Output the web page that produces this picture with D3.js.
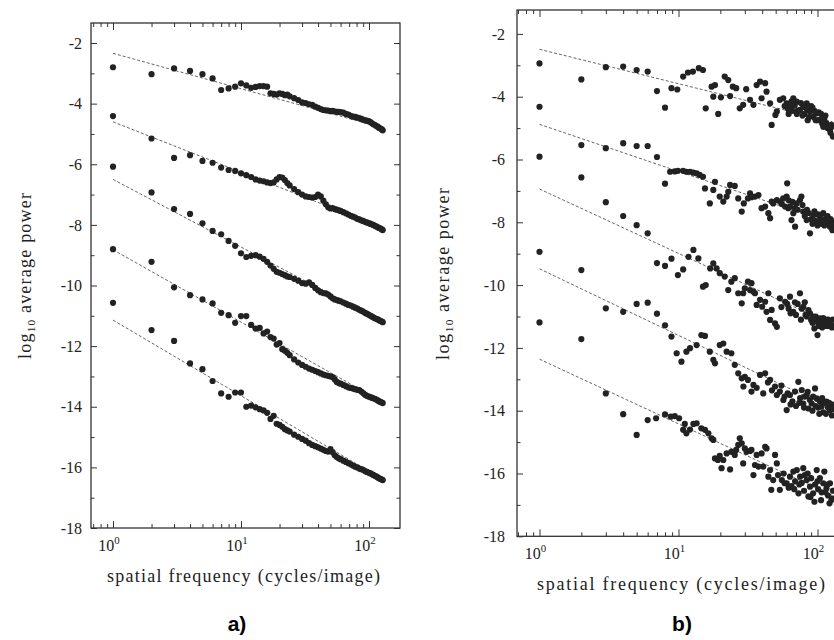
<!DOCTYPE html>
<html><head><meta charset="utf-8">
<script src="https://cdn.jsdelivr.net/npm/d3@7"></script>
<style>body{margin:0;background:#fff}svg{display:block}</style>
</head><body>
<svg id="c" width="834" height="640"></svg>
<script>
// ---------- DATA ----------
// Panel a: shared spatial frequencies (cycles/image)
const freqA = [1,2,3,4,5,6,7,8,9,10,11,12,13,14,15,16,17,18,19,20,21,22,23,24,
  26,28,30,32,34,36,38,40,42,44,46,48,50,52,54,56,58,60,
  63,66,69,72,75,78,81,84,87,90,93,96,99,102,105,108,111,114,117,120,123,126,128];
const seriesA1 = [-2.80,-3.03,-2.84,-2.92,-3.03,-3.17,-3.55,-3.50,-3.44,-3.33,-3.40,-3.48,-3.45,-3.42,-3.42,-3.44,-3.66,-3.68,-3.70,-3.66,-3.68,-3.72,-3.70,-3.76,
  -3.82,-3.88,-3.96,-3.98,-4.02,-4.04,-4.10,-4.14,-4.18,-4.21,-4.22,-4.23,-4.25,-4.24,-4.26,-4.27,-4.27,-4.28,
  -4.30,-4.34,-4.36,-4.40,-4.43,-4.44,-4.46,-4.48,-4.50,-4.53,-4.55,-4.56,-4.58,-4.60,-4.64,-4.68,-4.70,-4.74,-4.76,-4.80,-4.82,-4.85,-4.88];
const seriesA2 = [-4.41,-5.15,-5.79,-5.70,-5.89,-5.95,-6.11,-6.19,-6.22,-6.30,-6.36,-6.42,-6.50,-6.54,-6.56,-6.60,-6.62,-6.60,-6.50,-6.42,-6.44,-6.52,-6.62,-6.70,
  -6.82,-6.92,-7.00,-7.06,-7.08,-7.10,-7.08,-7.00,-7.06,-7.20,-7.32,-7.42,-7.46,-7.45,-7.48,-7.50,-7.52,-7.54,
  -7.58,-7.62,-7.66,-7.70,-7.73,-7.76,-7.80,-7.82,-7.85,-7.87,-7.90,-7.92,-7.94,-7.96,-7.98,-8.00,-8.03,-8.05,-8.08,-8.10,-8.12,-8.15,-8.17];
const seriesA3 = [-6.08,-6.93,-7.48,-7.64,-7.95,-8.20,-8.31,-8.53,-8.69,-8.94,-9.06,-9.02,-9.00,-9.05,-9.12,-9.22,-9.34,-9.45,-9.55,-9.58,-9.62,-9.66,-9.70,-9.72,
  -9.78,-9.84,-9.92,-9.94,-9.90,-9.98,-10.08,-10.16,-10.22,-10.25,-10.26,-10.30,-10.36,-10.42,-10.46,-10.48,-10.50,-10.52,
  -10.56,-10.60,-10.64,-10.66,-10.70,-10.73,-10.76,-10.80,-10.83,-10.86,-10.90,-10.93,-10.96,-10.99,-11.02,-11.05,-11.08,-11.10,-11.12,-11.15,-11.17,-11.19,-11.21];
const seriesA4 = [-8.80,-9.22,-10.06,-10.32,-10.46,-10.59,-10.90,-10.98,-11.23,-11.01,-11.01,-11.30,-11.42,-11.40,-11.58,-11.52,-11.70,-11.75,-11.95,-11.90,-12.10,-12.15,-12.22,-12.30,
  -12.44,-12.54,-12.62,-12.68,-12.74,-12.78,-12.82,-12.86,-12.90,-12.94,-12.96,-12.98,-13.00,-13.02,-13.10,-13.18,-13.22,-13.24,
  -13.28,-13.32,-13.36,-13.38,-13.40,-13.42,-13.44,-13.45,-13.50,-13.55,-13.60,-13.64,-13.66,-13.68,-13.70,-13.72,-13.74,-13.76,-13.79,-13.82,-13.84,-13.86,-13.88];
const seriesA5 = [-10.57,-11.47,-11.83,-12.57,-12.76,-13.15,-13.56,-13.67,-13.53,-13.53,-14.00,-13.96,-14.02,-14.08,-14.12,-14.20,-14.40,-14.30,-14.56,-14.60,-14.66,-14.74,-14.78,-14.82,
  -14.92,-14.99,-15.06,-15.12,-15.20,-15.26,-15.30,-15.34,-15.38,-15.42,-15.46,-15.48,-15.40,-15.50,-15.60,-15.66,-15.70,-15.73,
  -15.78,-15.82,-15.86,-15.90,-15.94,-15.98,-16.00,-16.04,-16.06,-16.08,-16.12,-16.15,-16.17,-16.19,-16.22,-16.25,-16.28,-16.30,-16.33,-16.36,-16.38,-16.40,-16.42];
// fitted power-law lines (log10 power at f = 1 and f = 128)
const fitFreq = [1, 128];
const fitStartA = [-2.34, -4.60, -6.50, -8.82, -11.14];
const fitEndA   = [-4.80, -8.10, -11.20, -13.85, -16.40];

// Panel b: [frequency, log10 power]
const seriesB1 = [[1,-2.94],[2,-3.45],[3,-3.06],[4,-3.04],[5,-3.15],[6,-3.20],[7,-3.82],[8,-4.35],[8.9,-3.73],[9.8,-3.77],[10.8,-3.36],[11.7,-3.23],[12.7,-3.20],[14,-3.09],[15,-3.15],[15.7,-4.37],[17.3,-3.68],[18.3,-3.63],[17.8,-4.0],[19.3,-4.55],[20.2,-4.02],[21.5,-3.36],[22.8,-3.47],[23.5,-3.98],[24.6,-3.68],[26,-3.73],[27.6,-4.37],[29.2,-4.26],[30.7,-3.76],[32.7,-4.10],[34.6,-4.26],[36.5,-3.63],[38.6,-3.52],[39.6,-4.05],[42,-3.57],[43,-3.84],[45.6,-4.21],[46.8,-4.90],[49.8,-4.58],[51,-4.47],[53.6,-4.10],[56.7,-4.05],[58,-4.3],[60,-4.21],[61.5,-4.4],[63.4,-4.32],[65,-4.15],[67,-4.05],[68.5,-4.28],[70.8,-4.16],[72,-4.45],[74.8,-4.42],[76,-4.2],[79,-4.32],[80.5,-4.55],[83.6,-4.21],[85,-4.4],[88.3,-4.48],[90,-4.3],[93.3,-4.64],[95,-4.45],[98.7,-4.53],[100,-4.75],[104,-4.74],[106,-4.55],[110,-4.96],[112,-4.7],[116,-4.85],[118,-5.0],[123,-5.06],[126,-4.9],[129,-5.27],
  [62,-4.55],[66,-4.45],[71,-4.55],[78,-4.6],[82,-4.35],[85,-4.75],[87,-4.65],[92,-4.35],[97,-4.75],[102,-4.5],[108,-4.85],[114,-4.6],[120,-4.95],[124,-5.15],[128,-4.95]];
const seriesB2 = [[1,-4.32],[2,-5.54],[3,-5.64],[4,-5.48],[5,-5.57],[6,-5.57],[7,-5.92],[8,-6.77],[8.7,-6.39],[9.4,-6.38],[9.9,-6.36],[10.8,-6.36],[11.4,-6.39],[12.1,-6.39],[12.8,-6.42],[13.5,-6.44],[14.2,-6.49],[15,-6.55],[15.5,-6.92],[16.8,-7.40],[17.8,-6.97],[18.3,-6.71],[19.8,-7.18],[21,-7.34],[22.2,-7.18],[22.8,-7.03],[23.5,-6.81],[25.4,-6.84],[26.9,-7.24],[28.5,-7.66],[29.5,-7.40],[31.6,-7.24],[32.7,-7.08],[33.5,-7.20],[35.5,-7.18],[37.6,-7.13],[39.6,-7.55],[42,-7.50],[44.3,-7.71],[45.6,-7.87],[46.8,-7.34],[48,-7.40],[51,-7.29],[53.6,-7.34],[55.4,-7.42],[56.7,-7.24],[58.5,-7.50],[60,-7.18],[60.5,-6.76],[61.6,-7.55],[63.4,-7.50],[65,-7.93],[67,-7.71],[68.8,-7.55],[69,-8.14],[70.8,-7.40],[74.8,-7.29],[76.6,-7.18],[79,-7.66],[81,-7.80],[83.6,-7.93],[86,-7.70],[88.3,-8.35],[90,-7.90],[93.3,-7.77],[96,-7.95],[98.7,-7.98],[101,-7.75],[104,-7.82],[107,-8.05],[110,-7.71],[113,-7.90],[116,-7.98],[119,-8.05],[123,-8.14],[126,-7.95],[129,-8.10],
  [62,-7.3],[66,-7.35],[72,-7.6],[78,-7.45],[84,-7.6],[92,-8.05],[95,-7.65],[100,-8.1],[105,-7.95],[112,-8.1],[118,-7.8],[124,-7.9],[128,-8.25]];
const seriesB3 = [[1,-5.91],[2,-6.57],[3,-7.36],[4,-7.80],[5,-8.09],[6,-8.35],[7,-9.30],[8,-9.39],[8.9,-9.16],[9.9,-9.68],[10.8,-9.50],[11.8,-9.10],[12.8,-8.88],[13.9,-9.15],[15,-10.05],[15.7,-10.0],[16.9,-9.47],[17.8,-9.31],[18.8,-9.47],[19.8,-9.62],[21.5,-9.73],[22.8,-10.16],[24,-9.89],[25.4,-9.78],[26.9,-10.26],[28.5,-10.58],[29.2,-10.26],[30,-10.10],[31.6,-9.89],[32.7,-10.16],[33.5,-9.94],[34.6,-10.21],[35.5,-10.26],[36.5,-10.63],[38.6,-10.47],[40,-10.69],[42,-10.53],[43,-10.85],[44.3,-10.26],[45.6,-11.11],[46.8,-10.79],[49.5,-11.22],[51,-11.33],[53.6,-10.42],[55,-10.7],[58.5,-10.53],[60.5,-10.60],[63.4,-10.37],[64,-10.9],[67,-10.85],[68.8,-10.55],[72,-10.6],[74.8,-10.26],[77,-10.75],[79,-10.69],[81,-10.55],[83.6,-11.0],[86,-10.8],[88.3,-10.90],[90,-11.11],[93.3,-11.0],[95,-11.38],[98.7,-11.16],[100,-11.59],[104,-11.06],[106,-11.2],[110,-11.05],[113,-11.22],[116,-11.11],[120,-11.3],[123,-11.15],[126,-11.27],[129,-11.1],
  [62,-10.75],[70,-10.95],[76,-11.1],[82,-10.95],[92,-11.2],[97,-11.0],[102,-11.3],[108,-11.35],[114,-11.3],[119,-11.1],[127,-11.35]];
const seriesB4 = [[1,-8.94],[2,-9.52],[3,-10.74],[4,-10.85],[5,-10.60],[6,-10.56],[7,-10.91],[8,-11.28],[8.9,-11.64],[9.7,-12.17],[10.5,-12.44],[11.4,-12.12],[12.1,-12.01],[13.5,-11.91],[14.6,-11.59],[15.5,-11.62],[16.8,-12.12],[17.8,-12.38],[18.3,-12.49],[19.8,-11.91],[21,-11.86],[22.2,-12.12],[24,-12.17],[25.4,-12.54],[26.9,-12.81],[28.5,-12.97],[29.3,-13.23],[30,-12.92],[31.6,-13.02],[33.5,-13.39],[34.6,-13.18],[36.5,-13.27],[38.6,-12.86],[40.7,-13.45],[42,-12.81],[44,-13.10],[45.6,-13.02],[47,-13.35],[49.5,-13.23],[51,-13.50],[53.6,-13.39],[55,-13.20],[56.8,-13.66],[60,-13.98],[61,-13.45],[63.4,-13.50],[66,-13.70],[68.9,-13.39],[70,-13.85],[72.8,-13.08],[75,-13.60],[77,-13.34],[79,-13.77],[81,-13.55],[83.6,-13.50],[86,-13.93],[88,-13.65],[90.8,-13.77],[93,-13.55],[96,-13.29],[98.7,-13.61],[101,-13.90],[104,-13.70],[107,-13.87],[110,-14.05],[113,-13.75],[116,-13.71],[119,-13.90],[123,-13.98],[126,-13.80],[129,-13.95],
  [58,-13.55],[64,-13.8],[74,-13.75],[80,-13.9],[85,-13.4],[92,-14.0],[97,-13.85],[103,-14.1],[108,-13.6],[115,-14.1],[121,-13.75],[127,-14.15]];
const seriesB5 = [[1,-11.19],[2,-11.72],[3,-13.45],[4,-14.11],[5,-14.77],[6,-14.30],[6.9,-14.24],[8,-14.12],[8.8,-14.19],[9.4,-14.17],[10.1,-14.24],[10.8,-14.61],[11.1,-14.42],[11.4,-14.72],[12.1,-14.60],[12.8,-14.42],[13.5,-14.40],[14.6,-14.56],[15.5,-14.61],[16.4,-14.72],[17.3,-14.88],[17.8,-14.93],[18.3,-15.52],[19.2,-15.57],[19.8,-15.44],[20.4,-15.83],[21,-15.57],[22.2,-15.36],[23.5,-15.87],[24,-15.31],[25.4,-15.41],[26,-15.25],[26.9,-15.09],[27.6,-14.88],[28.5,-15.04],[29.2,-15.68],[30,-15.20],[30.9,-15.31],[32.7,-15.28],[33.5,-15.25],[34.6,-16.05],[35.5,-15.73],[36.5,-15.41],[37.6,-15.78],[39.6,-15.36],[40.7,-15.78],[42,-15.15],[43,-15.20],[44.3,-16.10],[45.6,-15.89],[46.5,-16.52],[48,-16.21],[49.5,-15.41],[51,-15.68],[52,-16.05],[53.6,-16.52],[55.4,-16.21],[58,-16.31],[60,-16.31],[63.4,-16.10],[65,-16.40],[67,-15.94],[69,-16.25],[71,-15.89],[73,-16.63],[75,-16.10],[77,-16.30],[79,-15.83],[81,-16.05],[83.6,-16.21],[86,-16.73],[88.3,-16.42],[90,-16.15],[93,-16.63],[96,-16.35],[98.7,-15.89],[101,-16.50],[104,-16.15],[107,-16.60],[110,-16.31],[112,-15.94],[116,-16.47],[119,-16.70],[123,-16.31],[126,-16.84],[129,-16.55],
  [57,-16.0],[62,-16.45],[68,-16.5],[74,-16.35],[80,-16.55],[85,-16.0],[89,-16.75],[95,-16.9],[100,-16.25],[106,-16.85],[114,-16.6],[118,-16.35],[122,-16.95],[128,-16.8]];
const fitStartB = [-2.49, -4.88, -6.94, -9.48, -12.36];
const fitEndB   = [-4.80, -8.04, -11.26, -13.95, -16.70];

const yTickValues = [-18,-16,-14,-12,-10,-8,-6,-4,-2];
const xLabelExps = ["0","1","2"];
const xTitle = "spatial frequency (cycles/image)";
const panelLabels = ["a)", "b)"];

// ---------- DRAW ----------
const svg = d3.select('#c');
const SERIF = "'Liberation Serif','Times New Roman',serif";
const INK = '#222';

function drawPanel(p) {
  const x = d3.scaleLog().domain([1, 100]).range([p.x1, p.x100]);
  const y = d3.scaleLinear().domain([-18, -2]).range([p.y18, p.y2]);
  const L = p.left, R = p.right, T = p.top, B = y(-18);
  const g = svg.append('g');

  svg.append('clipPath').attr('id', 'clip' + p.id)
    .append('rect').attr('x', L).attr('y', T).attr('width', R - L).attr('height', B - T);
  const content = g.append('g').attr('clip-path', `url(#clip${p.id})`);

  const line = d3.line().x(d => x(d[0])).y(d => y(d[1]));
  p.fitStart.forEach((s, i) => {
    content.append('path').datum([[fitFreq[0], s], [fitFreq[1], p.fitEnd[i]]])
      .attr('d', line).attr('fill', 'none').attr('stroke', '#555')
      .attr('stroke-width', 0.9).attr('stroke-dasharray', '3,2');
  });
  p.series.forEach(s => {
    content.append('g').selectAll('circle').data(s).enter().append('circle')
      .attr('cx', d => x(d[0])).attr('cy', d => y(d[1])).attr('r', p.r).attr('fill', INK);
  });

  // frame
  g.append('rect').attr('x', L).attr('y', T).attr('width', R - L).attr('height', B - T)
    .attr('fill', 'none').attr('stroke', '#333').attr('stroke-width', 1.3);

  const xmin = x.invert(L), xmax = x.invert(R);
  const xMajor = [1, 10, 100].filter(v => v >= xmin && v <= xmax);
  const xMinor = [];
  [0.1, 1, 10, 100].forEach(e => { for (let m = 2; m < 10; m++) { const v = m * e; if (v >= xmin && v <= xmax) xMinor.push(v); } });
  const yMinor = d3.range(-17, y.invert(T), 2);

  const styleAxis = a => { a.select('.domain').remove(); a.selectAll('line').attr('stroke', '#333'); };
  g.append('g').attr('transform', `translate(0,${B})`).call(d3.axisBottom(x).tickValues(xMajor).tickSizeInner(-7).tickSizeOuter(0).tickFormat('')).call(styleAxis);
  g.append('g').attr('transform', `translate(0,${B})`).call(d3.axisBottom(x).tickValues(xMinor).tickSizeInner(-4).tickSizeOuter(0).tickFormat('')).call(styleAxis);
  g.append('g').attr('transform', `translate(0,${T})`).call(d3.axisTop(x).tickValues(xMajor).tickSizeInner(-7).tickSizeOuter(0).tickFormat('')).call(styleAxis);
  g.append('g').attr('transform', `translate(0,${T})`).call(d3.axisTop(x).tickValues(xMinor).tickSizeInner(-4).tickSizeOuter(0).tickFormat('')).call(styleAxis);

  const ly = g.append('g').attr('transform', `translate(${L},0)`)
    .call(d3.axisLeft(y).tickValues(yTickValues).tickSizeInner(-6).tickSizeOuter(0).tickPadding(p.pad).tickFormat(d => String(d)))
    .call(styleAxis);
  ly.attr('font-family', SERIF).attr('font-size', p.tickFont);
  ly.selectAll('text').attr('fill', INK);
  g.append('g').attr('transform', `translate(${L},0)`).call(d3.axisLeft(y).tickValues(yMinor).tickSizeInner(-3.5).tickSizeOuter(0).tickFormat('')).call(styleAxis);
  g.append('g').attr('transform', `translate(${R},0)`).call(d3.axisRight(y).tickValues(yTickValues).tickSizeInner(-6).tickSizeOuter(0).tickFormat('')).call(styleAxis);
  g.append('g').attr('transform', `translate(${R},0)`).call(d3.axisRight(y).tickValues(yMinor).tickSizeInner(-3.5).tickSizeOuter(0).tickFormat('')).call(styleAxis);

  // x tick labels 10^n
  [1, 10, 100].forEach((v, i) => {
    const t = g.append('text').attr('x', x(v) - 4).attr('y', B + 23)
      .attr('text-anchor', 'middle').attr('font-family', SERIF).attr('font-size', p.tickFont).attr('fill', INK);
    t.append('tspan').text('10');
    t.append('tspan').attr('dy', -7).attr('font-size', p.tickFont * 0.68).text(xLabelExps[i]);
  });

  // x title
  g.append('text').attr('x', p.xtX).attr('y', B + 54).attr('text-anchor', 'middle')
    .attr('font-family', SERIF).attr('font-size', p.titleFont).attr('fill', INK)
    .attr('textLength', p.xtLen).attr('lengthAdjust', 'spacing').text(xTitle);

  // y title
  const yt = g.append('text').attr('transform', `translate(${p.ytX},${p.ytY}) rotate(-90)`)
    .attr('text-anchor', 'middle').attr('font-family', SERIF).attr('font-size', p.titleFont).attr('fill', INK)
    .attr('textLength', p.ytLen).attr('lengthAdjust', 'spacing');
  yt.append('tspan').text('log');
  yt.append('tspan').attr('dy', 4).attr('font-size', p.titleFont * 0.62).text('10');
  yt.append('tspan').attr('dy', -4).text(' average power');

  // panel label
  svg.append('text').attr('x', p.labX).attr('y', 631).attr('text-anchor', 'middle')
    .attr('font-family', "'Liberation Sans',Arial,sans-serif").attr('font-weight', 'bold')
    .attr('font-size', 21).attr('fill', '#000').text(p.label);
}

const toPairs = s => s.map((v, i) => [freqA[i], v]);

drawPanel({
  id: 'a', x1: 113, x100: 369, y18: 528, y2: 43, left: 91, right: 400, top: 23,
  r: 3.1, pad: 9, tickFont: 16, titleFont: 18,
  series: [seriesA1, seriesA2, seriesA3, seriesA4, seriesA5].map(toPairs),
  fitStart: fitStartA, fitEnd: fitEndA,
  xtX: 243.5, xtLen: 273, ytX: 31, ytY: 276, ytLen: 166, labX: 237, label: panelLabels[0]
});
drawPanel({
  id: 'b', x1: 539.5, x100: 817.5, y18: 536.3, y2: 33.9, left: 517, right: 850, top: 10,
  r: 3.1, pad: 12, tickFont: 16, titleFont: 18,
  series: [seriesB1, seriesB2, seriesB3, seriesB4, seriesB5],
  fitStart: fitStartB, fitEnd: fitEndB,
  xtX: 681, xtLen: 288, ytX: 449, ytY: 274, ytLen: 172, labX: 682, label: panelLabels[1]
});
</script>
</body></html>
